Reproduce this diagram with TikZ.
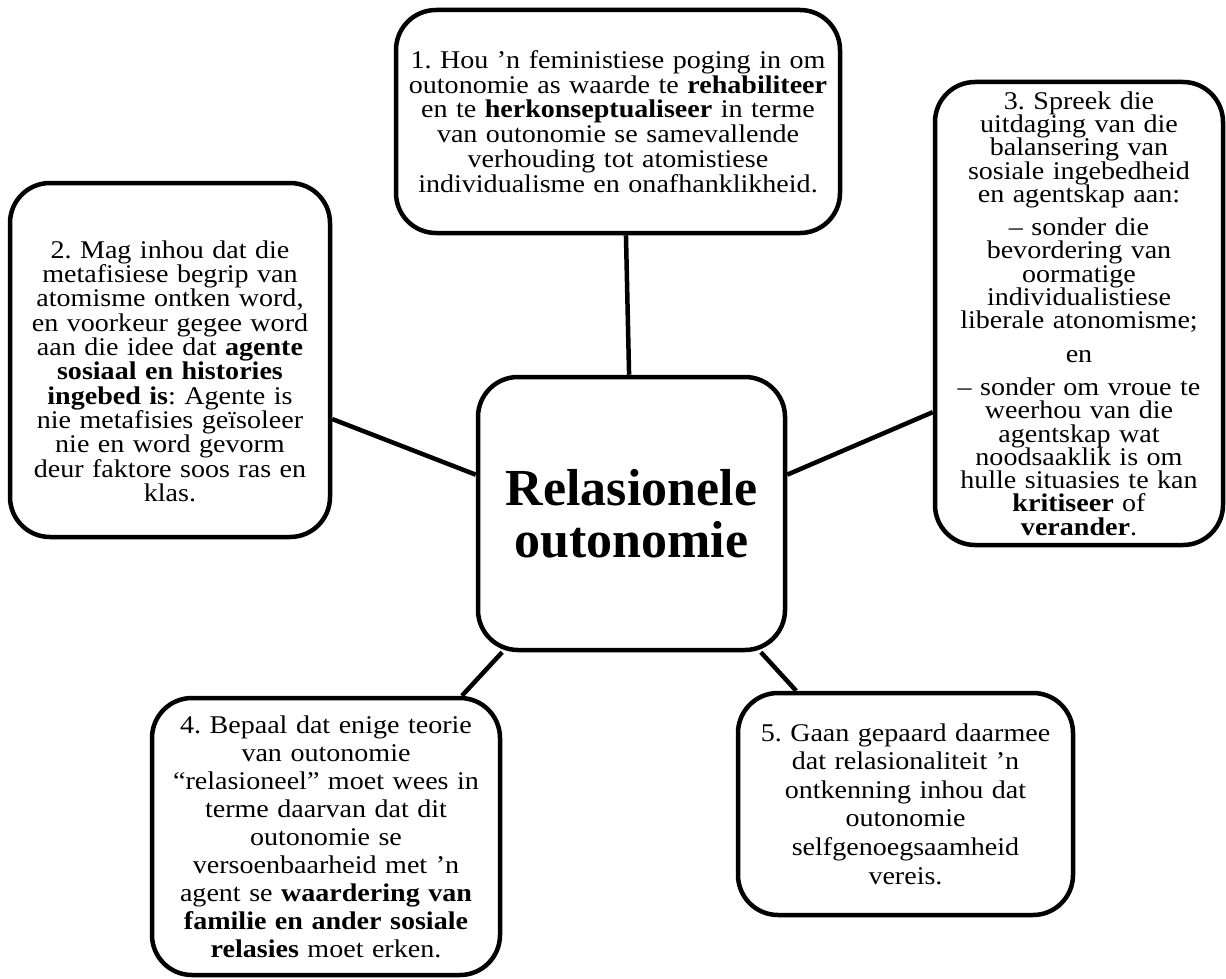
\documentclass[tikz,border=0pt]{standalone}
\usepackage{fontspec}
\setmainfont[FakeStretch=1.1]{Liberation Serif}
\newfontfamily\hubfont{Liberation Serif}
\newcommand{\tightlines}{\lineskiplimit=-50pt\relax\lineskip=0pt\relax\frenchspacing}

\begin{document}
\begin{tikzpicture}[x=1pt,y=-1pt,
    box/.style={draw,rectangle,rounded corners=40pt,line width=4.5pt,
      inner sep=0pt,align=center},
    link/.style={line width=4.5pt}]
  \useasboundingbox (0,0) rectangle (1226,979);

  % Nodo centrale
  \node[box,minimum width=307pt,minimum height=273pt,text width=290pt,
    font=\hubfont\fontsize{52}{52}\selectfont\bfseries] (hub) at (631.5,513.5)
    {Relasionele\\outonomie};

  % Riquadro 1
  \node[box,minimum width=444pt,minimum height=223pt,text width=430pt,
    font=\fontsize{25.5}{24.7}\selectfont\tightlines] (box1) at (618,121.5)
    {1. Hou ’n feministiese poging in om\\
     outonomie as waarde te \textbf{rehabiliteer}\\
     en te \textbf{herkonseptualiseer} in terme\\
     van outonomie se samevallende\\
     verhouding tot atomistiese\\
     individualisme en onafhanklikheid.\par\vspace{40pt}};

  % Riquadro 2
  \node[box,minimum width=320pt,minimum height=354pt,text width=306pt,
    font=\fontsize{25.5}{24.3}\selectfont\tightlines] (box2) at (170,360)
    {\rule{0pt}{40pt}2. Mag inhou dat die\\
     metafisiese begrip van\\
     atomisme ontken word,\\
     en voorkeur gegee word\\
     aan die idee dat \textbf{agente}\\
     \textbf{sosiaal en histories}\\
     \textbf{ingebed is}: Agente is\\
     nie metafisies geïsoleer\\
     nie en word gevorm\\
     deur faktore soos ras en\\
     klas.};

  % Riquadro 3
  \node[box,minimum width=288pt,minimum height=463pt,text width=276pt,
    font=\fontsize{25.5}{23.3}\selectfont\tightlines] (box3) at (1079,313.5)
    {3. Spreek die\\
     uitdaging van die\\
     balansering van\\
     sosiale ingebedheid\\
     en agentskap aan:\\[10pt]
     – sonder die\\
     bevordering van\\
     oormatige\\
     individualistiese\\
     liberale atonomisme;\\[10pt]
     en\\[10pt]
     – sonder om vroue te\\
     weerhou van die\\
     agentskap wat\\
     noodsaaklik is om\\
     hulle situasies te kan\\
     \textbf{kritiseer} of\\
     \textbf{verander}.};

  % Riquadro 4
  \node[box,minimum width=348pt,minimum height=277pt,text width=334pt,
    font=\fontsize{25.5}{28}\selectfont\tightlines] (box4) at (326,836.5)
    {4. Bepaal dat enige teorie\\
     van outonomie\\
     “relasioneel” moet wees in\\
     terme daarvan dat dit\\
     outonomie se\\
     versoenbaarheid met ’n\\
     agent se \textbf{waardering van}\\
     \textbf{familie en ander sosiale}\\
     \textbf{relasies} moet erken.};

  % Riquadro 5
  \node[box,minimum width=335pt,minimum height=222pt,text width=320pt,
    font=\fontsize{25.5}{28.6}\selectfont\tightlines] (box5) at (905.5,804)
    {5. Gaan gepaard daarmee\\
     dat relasionaliteit ’n\\
     ontkenning inhou dat\\
     outonomie\\
     selfgenoegsaamheid\\
     vereis.};

  % Collegamenti
  \draw[link] (hub.91.5) -- (box1.-86);
  \draw[link] (hub.166) -- (box2.-20);
  \draw[link] (hub.14.4) -- (box3.214.4);
  \draw[link] (hub.227) -- (box4.46);
  \draw[link] (hub.-47) -- (box5.134);
\end{tikzpicture}
\end{document}
